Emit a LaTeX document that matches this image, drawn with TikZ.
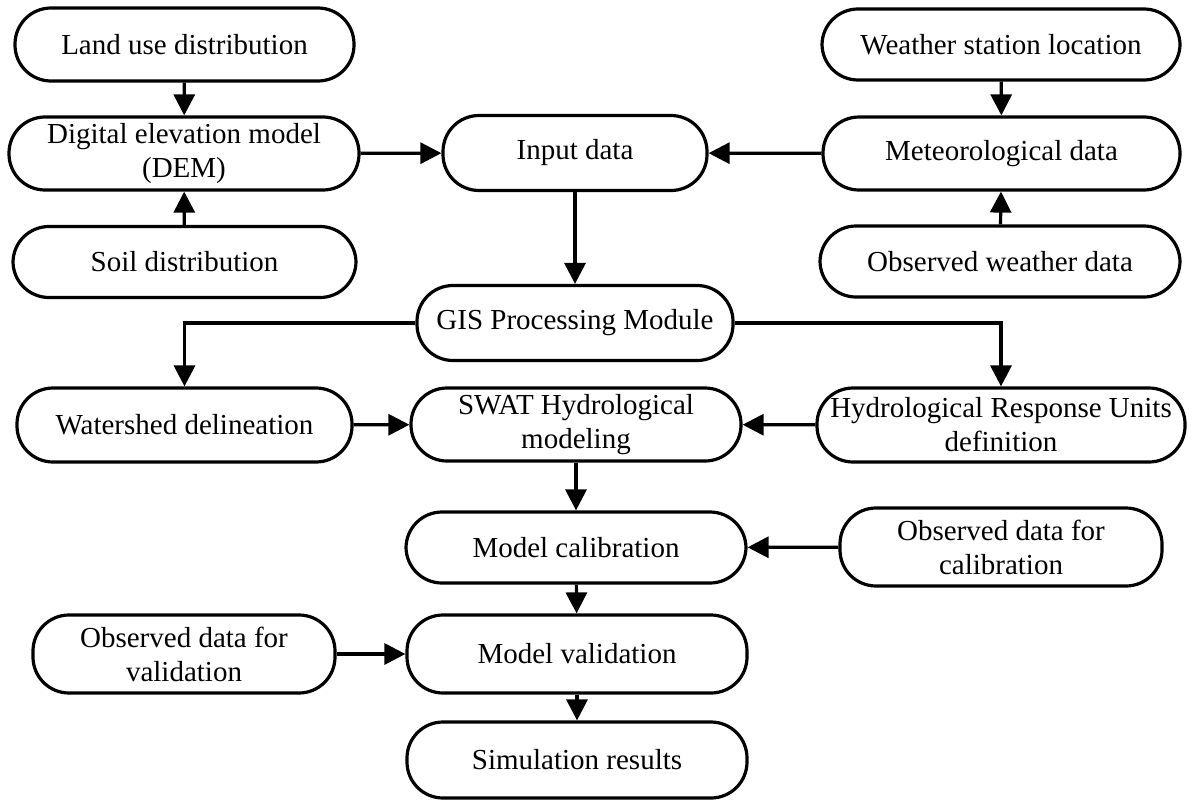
\documentclass[tikz,border=0pt]{standalone}
\usepackage{fontspec}
\setmainfont{Liberation Serif}
\usetikzlibrary{arrows.meta}
\tikzset{
  box/.style={draw=black, line width=3.2pt, fill=white, rounded corners=36pt,
    align=center, inner sep=0pt, font=\fontsize{29}{34}\selectfont},
  conn/.style={line width=3.2pt, -{Triangle[length=21pt,width=21pt]}},
}
\begin{document}
\begin{tikzpicture}[x=1pt,y=-1pt]
\useasboundingbox (0,0) rectangle (1193,800);
% left column
\node[box, minimum width=339pt, minimum height=73pt] (land) at (184.5,44.5) {Land use distribution};
\node[box, minimum width=350pt, minimum height=73pt] (dem) at (184,153.5) {Digital elevation model\\(DEM)};
\node[box, minimum width=343pt, minimum height=71pt] (soil) at (184.5,262) {Soil distribution};
% center
\node[box, minimum width=264pt, minimum height=75pt] (input) at (575,153) {Input data};
\node[box, minimum width=316pt, minimum height=75pt] (gis) at (575,323) {GIS Processing Module};
% right column
\node[box, minimum width=358pt, minimum height=71pt] (weather) at (1001,44.5) {Weather station location};
\node[box, minimum width=357pt, minimum height=73pt] (meteo) at (1001.5,153.5) {Meteorological data};
\node[box, minimum width=360pt, minimum height=71pt] (obsw) at (1000,261.5) {Observed weather data};
% row 4
\node[box, minimum width=335pt, minimum height=74pt] (water) at (184.5,425) {Watershed delineation};
\node[box, minimum width=330pt, minimum height=73pt] (swat) at (576,424.5) {SWAT Hydrological\\modeling};
\node[box, minimum width=368pt, minimum height=74pt] (hru) at (1001,425) {Hydrological Response Units\\definition};
% lower part
\node[box, minimum width=340pt, minimum height=71pt] (calib) at (576,547.5) {Model calibration};
\node[box, minimum width=322pt, minimum height=78pt] (obsc) at (1001,547) {Observed data for\\calibration};
\node[box, minimum width=302pt, minimum height=78pt] (obsv) at (184,654) {Observed data for\\validation};
\node[box, minimum width=340pt, minimum height=78pt] (valid) at (577,654) {Model validation};
\node[box, minimum width=340pt, minimum height=76pt] (sim) at (577,760) {Simulation results};
% connectors
\draw[conn] (land) -- (dem);
\draw[conn] (soil) -- (dem);
\draw[conn] (dem) -- (input);
\draw[conn] (meteo) -- (input);
\draw[conn] (weather) -- (meteo);
\draw[conn] (obsw) -- (meteo);
\draw[conn] (input) -- (gis);
\draw[conn] (gis.west) -| (water.north);
\draw[conn] (gis.east) -| (hru.north);
\draw[conn] (water) -- (swat);
\draw[conn] (hru) -- (swat);
\draw[conn] (swat) -- (calib);
\draw[conn] (obsc) -- (calib);
\draw[conn] (calib) -- (valid);
\draw[conn] (obsv) -- (valid);
\draw[conn] (valid) -- (sim);
\end{tikzpicture}
\end{document}
